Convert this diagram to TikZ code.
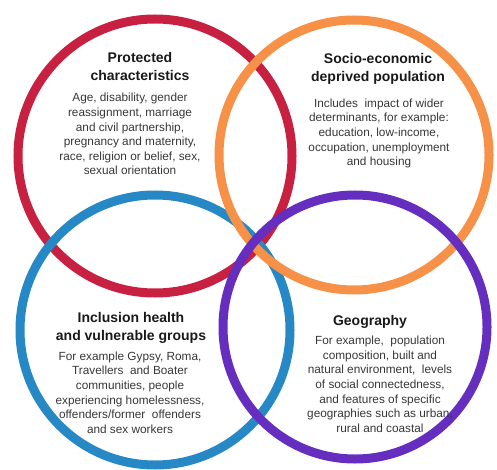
\documentclass[tikz,border=0pt]{standalone}
\usepackage{fontspec}
\setmainfont{Liberation Sans}
\definecolor{cred}{RGB}{200,32,64}
\definecolor{corange}{RGB}{247,145,72}
\definecolor{cblue}{RGB}{38,136,196}
\definecolor{cpurple}{RGB}{102,46,190}
\definecolor{ctitle}{RGB}{25,25,25}
\definecolor{cbody}{RGB}{55,55,55}
\begin{document}
\begin{tikzpicture}[x=1pt,y=-1pt,
  ring/.style={line width=9pt},
  titletext/.style={anchor=base,align=center,inner sep=0pt,text=ctitle,font=\bfseries\fontsize{14}{18}\selectfont},
  bodytext/.style={anchor=base,align=center,inner sep=0pt,text=cbody,font=\fontsize{11.8}{14.6}\selectfont}]
\useasboundingbox (0,0) rectangle (497,470);
\coordinate (cr) at (155,156);
\coordinate (co) at (354,155);
\coordinate (cb) at (155,330);
\coordinate (cp) at (355,327);
\draw[ring,cred] (cr) circle[radius=137];
\draw[ring,cblue] (cb) circle[radius=135];
\draw[ring,corange] (co) circle[radius=135];
\draw[ring,cpurple] (cp) circle[radius=132];
% red
\node[titletext] (rt) at (140,81) {Protected\\characteristics};
\node[bodytext] (rb) at (130,175) {Age, disability, gender\\reassignment, marriage\\and civil partnership,\\pregnancy and maternity,\\race, religion or belief, sex,\\sexual orientation};
% orange
\node[titletext] (ot) at (378,81.7) {Socio-economic\\deprived population};
\node[bodytext] (ob) at (379,165.7) {Includes\ \ impact of wider\\determinants, for example:\\education, low-income,\\occupation, unemployment\\and housing};
% blue
\node[titletext] (bt) at (131,340) {Inclusion health\\and vulnerable groups};
\node[bodytext] (bb) at (130,433.3) {For example Gypsy, Roma,\\Travellers\ \ and Boater\\communities, people\\experiencing homelessness,\\offenders/former\ \ offenders\\and sex workers};
% purple
\node[titletext] (pt) at (370,325) {Geography};
\node[bodytext] (pb) at (380,432.3) {For example,\ \ population\\composition, built and\\natural environment,\ \ levels\\of social connectedness,\\and features of specific\\geographies such as urban,\\rural and coastal};
\end{tikzpicture}
\end{document}
